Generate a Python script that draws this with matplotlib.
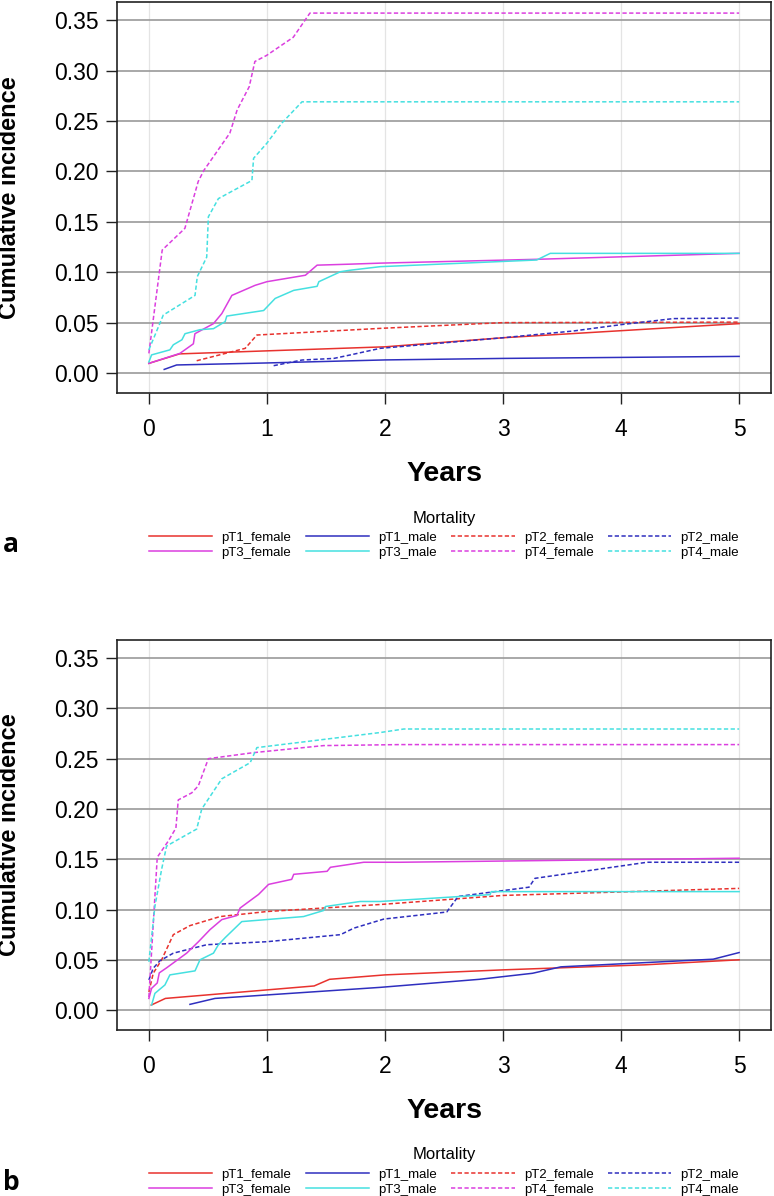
import matplotlib
matplotlib.use("Agg")
import matplotlib.pyplot as plt

plt.rcParams["font.family"] = ["Liberation Sans", "DejaVu Sans"]

# ---- panel a: cumulative incidence (years, value) ----
a_pt1_female_t = [0.0, 0.26, 1.0, 2.0, 3.0, 4.0, 5.0]
a_pt1_female_y = [0.0096, 0.019, 0.022, 0.026, 0.035, 0.042, 0.049]
a_pt1_male_t = [0.13, 0.235, 1.0, 2.0, 3.0, 5.0]
a_pt1_male_y = [0.0036, 0.008, 0.010, 0.013, 0.0145, 0.0165]
a_pt2_female_t = [0.405, 0.816, 0.915, 1.708, 1.96, 3.0, 5.0]
a_pt2_female_y = [0.0122, 0.0245, 0.0377, 0.0427, 0.0443, 0.050, 0.0505]
a_pt2_male_t = [1.057, 1.297, 1.567, 1.708, 1.96, 3.0, 3.596, 4.0, 4.443, 5.0]
a_pt2_male_y = [0.0073, 0.0129, 0.0145, 0.018, 0.0245, 0.035, 0.0417, 0.048, 0.054, 0.0545]
a_pt3_female_t = [0.0, 0.263, 0.377, 0.39, 0.547, 0.618, 0.703, 0.90, 1.0, 1.326,
                  1.425, 1.708, 1.96, 3.285, 5.0]
a_pt3_female_y = [0.0096, 0.0195, 0.029, 0.039, 0.049, 0.059, 0.077, 0.087, 0.0906, 0.097,
                  0.107, 0.108, 0.109, 0.1128, 0.1187]
a_pt3_male_t = [0.0, 0.023, 0.178, 0.207, 0.28, 0.306, 0.433, 0.547, 0.646, 0.66, 0.972,
                1.07, 1.227, 1.425, 1.44, 1.623, 1.708, 1.96, 3.285, 3.40, 5.0]
a_pt3_male_y = [0.011, 0.018, 0.023, 0.028, 0.033, 0.039, 0.043, 0.044, 0.051, 0.0565, 0.062,
                0.074, 0.082, 0.086, 0.0906, 0.1005, 0.102, 0.1055, 0.1121, 0.1187, 0.1187]
a_pt4_female_t = [0.0, 0.113, 0.305, 0.418, 0.466, 0.686, 0.748, 0.85, 0.898, 0.997,
                  1.223, 1.364, 5.0]
a_pt4_female_y = [0.0195, 0.122, 0.1435, 0.190, 0.201, 0.238, 0.261, 0.284, 0.309, 0.315,
                  0.333, 0.357, 0.357]
a_pt4_male_t = [0.0, 0.122, 0.391, 0.41, 0.49, 0.504, 0.589, 0.873, 0.887, 1.0, 1.127,
                1.297, 5.0]
a_pt4_male_y = [0.023, 0.0575, 0.077, 0.0956, 0.115, 0.155, 0.173, 0.191, 0.213, 0.228,
                0.248, 0.269, 0.269]

# ---- panel b ----
b_pt1_female_t = [0.02, 0.14, 1.4, 1.53, 2.0, 3.0, 4.2, 5.0]
b_pt1_female_y = [0.005, 0.0116, 0.024, 0.0306, 0.035, 0.040, 0.045, 0.050]
b_pt1_male_t = [0.348, 0.56, 1.96, 2.8, 3.25, 3.49, 4.78, 5.0]
b_pt1_male_y = [0.0057, 0.0116, 0.0226, 0.0306, 0.0366, 0.043, 0.0506, 0.0572]
b_pt2_female_t = [0.0, 0.037, 0.108, 0.207, 0.348, 0.603, 1.0, 1.96, 3.0, 5.0]
b_pt2_female_y = [0.018, 0.0366, 0.050, 0.075, 0.084, 0.093, 0.098, 0.105, 0.114, 0.121]
b_pt2_male_t = [0.0, 0.037, 0.093, 0.207, 0.49, 1.0, 1.623, 1.737, 1.99, 2.523, 2.62,
                3.22, 3.27, 4.22, 5.0]
b_pt2_male_y = [0.030, 0.0416, 0.049, 0.0566, 0.065, 0.068, 0.075, 0.0815, 0.0905, 0.0975,
                0.113, 0.1222, 0.131, 0.147, 0.147]
b_pt3_female_t = [0.0, 0.023, 0.071, 0.088, 0.15, 0.32, 0.42, 0.518, 0.618, 0.745, 0.773,
                  0.929, 1.014, 1.21, 1.227, 1.51, 1.538, 1.82, 2.13, 5.0]
b_pt3_female_y = [0.0116, 0.0216, 0.027, 0.037, 0.042, 0.0566, 0.068, 0.080, 0.090, 0.094,
                  0.1015, 0.115, 0.125, 0.130, 0.135, 0.138, 0.142, 0.147, 0.147, 0.151]
b_pt3_male_t = [0.023, 0.051, 0.136, 0.178, 0.391, 0.433, 0.547, 0.589, 0.646, 0.787, 1.31,
                1.48, 1.496, 1.79, 1.96, 2.89, 2.9, 5.0]
b_pt3_male_y = [0.005, 0.0166, 0.025, 0.035, 0.039, 0.050, 0.0566, 0.065, 0.072, 0.088, 0.093,
                0.099, 0.103, 0.108, 0.108, 0.1148, 0.1178, 0.1178]
b_pt4_female_t = [0.0, 0.071, 0.164, 0.229, 0.249, 0.363, 0.419, 0.504, 0.887, 1.48, 2.13, 5.0]
b_pt4_female_y = [0.013, 0.152, 0.168, 0.181, 0.209, 0.216, 0.223, 0.250, 0.256, 0.263,
                  0.264, 0.264]
b_pt4_male_t = [0.0, 0.051, 0.108, 0.15, 0.193, 0.405, 0.448, 0.618, 0.858, 0.915, 1.96,
                2.16, 5.0]
b_pt4_male_y = [0.048, 0.103, 0.14, 0.163, 0.166, 0.18, 0.20, 0.23, 0.246, 0.261, 0.276,
                0.2795, 0.2795]

labels = ["pT1_female", "pT1_male", "pT2_female", "pT2_male",
          "pT3_female", "pT3_male", "pT4_female", "pT4_male"]
colors = ["#e8322e", "#2f2fbf", "#e8322e", "#2f2fbf",
          "#db3fdf", "#45e0e0", "#db3fdf", "#45e0e0"]
dashed = [False, False, True, True, False, False, True, True]

panel_a = [(a_pt1_female_t, a_pt1_female_y), (a_pt1_male_t, a_pt1_male_y),
           (a_pt2_female_t, a_pt2_female_y), (a_pt2_male_t, a_pt2_male_y),
           (a_pt3_female_t, a_pt3_female_y), (a_pt3_male_t, a_pt3_male_y),
           (a_pt4_female_t, a_pt4_female_y), (a_pt4_male_t, a_pt4_male_y)]
panel_b = [(b_pt1_female_t, b_pt1_female_y), (b_pt1_male_t, b_pt1_male_y),
           (b_pt2_female_t, b_pt2_female_y), (b_pt2_male_t, b_pt2_male_y),
           (b_pt3_female_t, b_pt3_female_y), (b_pt3_male_t, b_pt3_male_y),
           (b_pt4_female_t, b_pt4_female_y), (b_pt4_male_t, b_pt4_male_y)]

W, H = 774, 1196
fig = plt.figure(figsize=(W / 100, H / 100), dpi=100)


def px(x, y):
    # pixel position -> figure fraction
    return x / W, 1 - y / H


def draw_panel(series, top_px, bottom_px, letter, letter_y):
    left, right = 117, 771
    ax = fig.add_axes([left / W, 1 - bottom_px / H, (right - left) / W,
                       (bottom_px - top_px) / H])
    lines = []
    for (t, y), lab, c, d in zip(series, labels, colors, dashed):
        ln, = ax.plot(t, y, color=c, lw=1.1, label=lab,
                      linestyle=(0, (2.8, 1.6)) if d else "-")
        lines.append(ln)
    ax.set_xlim(-0.27, 5.27)
    ax.set_ylim(-0.0198, 0.368)
    ax.set_xticks(range(6))
    ax.set_yticks([0.0, 0.05, 0.10, 0.15, 0.20, 0.25, 0.30, 0.35])
    ax.set_yticklabels([f"{v:.2f}" for v in ax.get_yticks()])
    ax.set_axisbelow(True)
    ax.yaxis.grid(True, color="#9a9a9a", lw=1.2)
    ax.xaxis.grid(True, color="#e4e4e4", lw=0.9)
    ax.tick_params(labelsize=16.5, length=8, width=1.0, direction="out",
                   color="#222222")
    ax.tick_params(axis="x", pad=10)
    ax.tick_params(axis="y", pad=5)
    for s in ax.spines.values():
        s.set_color("#222222")
        s.set_linewidth(1.2)

    mid = (left + right) / 2
    fig.text(*px(10, (top_px + bottom_px) / 2), "Cumulative incidence", rotation=90,
             ha="center", va="center", fontsize=17, fontweight="bold")
    fig.text(*px(mid, bottom_px + 81), "Years", ha="center", va="center",
             fontsize=20.5, fontweight="bold")
    fig.text(*px(11, letter_y), letter, ha="center", va="center",
             fontsize=19, fontweight="bold", family=["Open Sans", "DejaVu Sans"])
    fig.text(*px(mid, bottom_px + 125), "Mortality", ha="center", va="center",
             fontsize=12)

    order = [0, 4, 1, 5, 2, 6, 3, 7]
    rows_mid = bottom_px + 152
    ax.legend([lines[i] for i in order], [labels[i] for i in order],
              ncol=4, loc="center", frameon=False,
              bbox_to_anchor=(0.5, -(rows_mid - bottom_px) / (bottom_px - top_px)),
              fontsize=9.5, handlelength=4.8, handletextpad=0.68,
              columnspacing=1.1, labelspacing=0.2, borderpad=0, borderaxespad=0)
    return ax


draw_panel(panel_a, 2, 393, "a", 545)
draw_panel(panel_b, 640, 1030, "b", 1183)

fig.savefig("out.png", dpi=100)
